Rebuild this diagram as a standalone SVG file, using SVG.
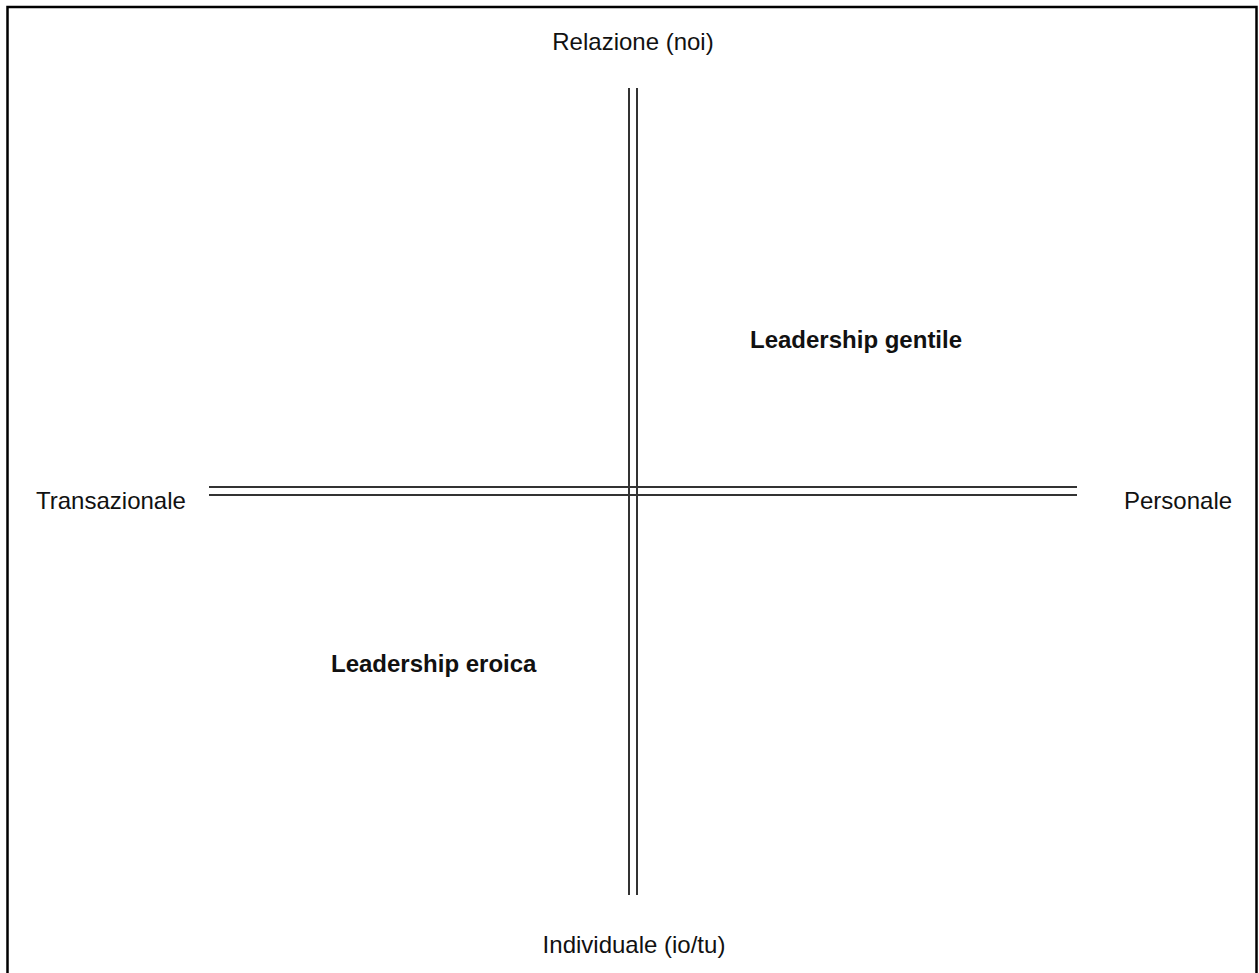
<svg xmlns="http://www.w3.org/2000/svg" width="1259" height="973" viewBox="0 0 1259 973">
<style>
.t{font-family:"Liberation Sans",Arial,sans-serif;font-size:24px;fill:#111}
.b{font-weight:bold}
.ax{stroke:#333;stroke-width:2;fill:none}
</style>
<rect x="0" y="0" width="1259" height="973" fill="#fff"/>
<rect x="7.5" y="7" width="1249" height="980" fill="none" stroke="#000" stroke-width="2.5"/>
<g id="connectors">
<line class="ax" x1="629" y1="88" x2="629" y2="895"/>
<line class="ax" x1="637" y1="88" x2="637" y2="895"/>
<line class="ax" x1="209" y1="487" x2="1077" y2="487"/>
<line class="ax" x1="209" y1="495" x2="1077" y2="495"/>
</g>
<g id="top"><text class="t" x="633" y="50" text-anchor="middle">Relazione (noi)</text></g>
<g id="bottom"><text class="t" x="634" y="953" text-anchor="middle">Individuale (io/tu)</text></g>
<g id="left"><text class="t" x="36" y="509">Transazionale</text></g>
<g id="right"><text class="t" x="1124" y="509">Personale</text></g>
<g id="gentile"><text class="t b" x="750" y="348">Leadership gentile</text></g>
<g id="eroica"><text class="t b" x="331" y="672">Leadership eroica</text></g>
</svg>
